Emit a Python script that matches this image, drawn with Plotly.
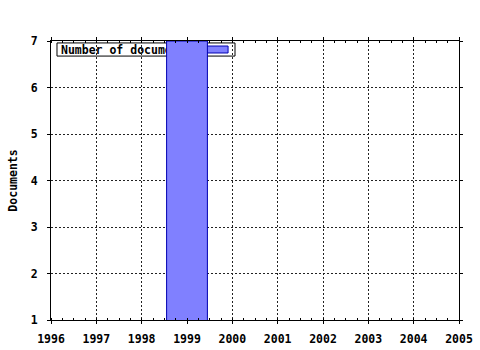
import plotly.graph_objects as go

years = [1999]
documents = [7]
year_ticks = list(range(1996, 2006))
doc_ticks = [1, 2, 3, 4, 5, 6, 7]
series_name = "Number of documents"

fig = go.Figure()
fig.add_trace(go.Bar(
    x=years, y=documents, width=0.9,
    marker=dict(color="#8080FF", line=dict(color="#0000B0", width=1)),
    name=series_name, showlegend=False,
))

mono = dict(family="DejaVu Sans Mono", size=11.5, color="black", weight="bold")

# legend box drawn beneath the bars
fig.add_shape(type="rect", xref="paper", yref="paper",
              x0=0.0147, x1=0.451, y0=0.946, y1=0.993,
              layer="between", fillcolor="white",
              line=dict(color="black", width=1),
              label=dict(text=series_name, textposition="middle left",
                         padding=1, font=mono))
fig.add_shape(type="rect", xref="paper", yref="paper",
              x0=0.375, x1=0.434, y0=0.957, y1=0.982,
              layer="between", fillcolor="#8080FF",
              line=dict(color="#0000B0", width=1))

axis_common = dict(
    showline=True, linecolor="black", linewidth=1, mirror="ticks",
    showgrid=True, gridcolor="#222222", griddash="2px,2px", gridwidth=1,
    ticks="outside", ticklen=3, tickcolor="black",
    tickfont=mono, zeroline=False, automargin=False,
)
fig.update_xaxes(range=[1996, 2005], tickvals=year_ticks, **axis_common,
                 ticklabelstandoff=5,
                 minor=dict(dtick=0.25, ticks="inside", ticklen=2, showgrid=False, tickcolor="black"))
fig.update_yaxes(range=[1, 7], tickvals=doc_ticks, **axis_common,
                 ticklabelstandoff=7,
                 title=dict(text="Documents", font=mono, standoff=10))

fig.update_layout(
    width=480, height=350,
    margin=dict(l=51, r=21, t=41, b=30),
    plot_bgcolor="white", paper_bgcolor="white",
    showlegend=False,
)
fig.write_html("out.html")
